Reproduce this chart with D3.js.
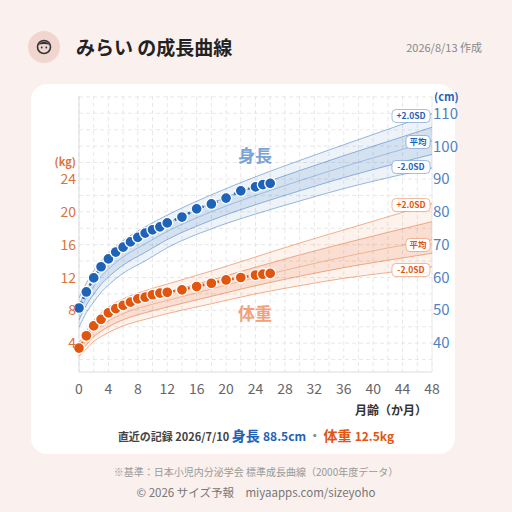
<!DOCTYPE html>
<html><head><meta charset="utf-8">
<script src="https://cdn.jsdelivr.net/npm/d3@7"></script>
<style>body{margin:0;background:#faf0ed}svg{display:block;font-family:"Noto Sans CJK JP","Noto Sans",sans-serif}</style>
</head><body><svg id="c" width="512" height="512"></svg>
<script>
const refMonths=[0,1,2,3,4,6,9,12,18,24,30,36,42,48];
const hP2=[53.5,58,61.8,64.8,67.2,71,75.2,78.8,85,90.5,95.5,100.3,105,109.8];
const hMean=[49,53.5,57,60,62.3,66,70,73.8,79.8,84.8,89.3,93.6,97.6,101.5];
const hM2=[44.5,49,52.2,55.2,57.4,61,64.8,68.8,74.6,79.1,83.1,86.9,90.2,93.2];
const wP2=[4.0,5.5,6.8,7.7,8.4,9.4,10.4,11.2,12.8,14.5,16.2,17.8,19.4,21.0];
const wMean=[3.1,4.3,5.4,6.1,6.7,7.6,8.5,9.2,10.6,12.0,13.3,14.5,15.6,16.6];
const wM2=[2.4,3.3,4.2,4.8,5.3,6.1,6.9,7.6,8.8,10.0,11.0,11.9,12.6,13.3];
const recMonths=[0,1,2,3,4,5,6,7,8,9,10,11,12,14,16,18,20,22,24,25,26];
const heights=[50.4,55.3,59.6,63,65.4,67.5,69,70.6,72,73.3,74.3,75.2,76.4,78.2,80.7,82.2,84,86.2,87.4,88.1,88.5];
const weights=[3.4,4.9,6.1,6.9,7.7,8.2,8.6,9.0,9.4,9.6,9.9,10.1,10.2,10.5,10.9,11.3,11.7,12.0,12.3,12.4,12.5];
const xTicks=[0,4,8,12,16,20,24,28,32,36,40,44,48];
const kgTicks=[4,8,12,16,20,24];
const cmTicks=[40,50,60,70,80,90,100,110];

const svg=d3.select("#c");
const BL="#1f63b8",OR="#e0560f";
const x=d3.scaleLinear().domain([0,48]).range([79,432]);
const yk=d3.scaleLinear().domain([0,24]).range([376,179]);
const yc=d3.scaleLinear().domain([40,110]).range([342,113]);
const pTop=96,pBot=372;

svg.append("circle").attr("cx",44).attr("cy",47).attr("r",16).attr("fill","#f1d6d0");
svg.append("circle").attr("cx",44).attr("cy",47).attr("r",6.5).attr("fill","none").attr("stroke","#333").attr("stroke-width",1.6);
svg.append("path").attr("d","M37.8,45 Q44,38 50.2,45 Q44,43 37.8,45Z").attr("fill","#333");
svg.append("circle").attr("cx",41.7).attr("cy",47.5).attr("r",0.9).attr("fill","#333");
svg.append("circle").attr("cx",46.3).attr("cy",47.5).attr("r",0.9).attr("fill","#333");
svg.append("text").attr("x",76).attr("y",55).attr("font-size",19).attr("font-weight",700).attr("fill","#222").text("みらい の成長曲線");
svg.append("text").attr("x",482).attr("y",52).attr("text-anchor","end").attr("font-size",11).attr("fill","#888").text("2026/8/13 作成");

svg.append("rect").attr("x",31).attr("y",84).attr("width",424).attr("height",370).attr("rx",16).attr("fill","#fff");

const g=svg.append("g");
for(let m=0;m<=48;m+=2) g.append("line").attr("x1",x(m)).attr("x2",x(m)).attr("y1",pTop).attr("y2",pBot).attr("stroke","#e8e8e8").attr("stroke-dasharray","4,3");
for(let k=0;k<=34;k+=2){const yy=yk(k); if(yy>=pTop&&yy<=pBot) g.append("line").attr("x1",79).attr("x2",432).attr("y1",yy).attr("y2",yy).attr("stroke","#e8e8e8").attr("stroke-dasharray","4,3");}
g.append("line").attr("x1",79).attr("x2",79).attr("y1",pTop).attr("y2",pBot).attr("stroke","#ddd");
g.append("line").attr("x1",79).attr("x2",432).attr("y1",pBot).attr("y2",pBot).attr("stroke","#ddd");
g.append("line").attr("x1",432).attr("x2",432).attr("y1",pTop).attr("y2",pBot).attr("stroke","#eee");

function bands(p2,mean,m2,ys,col){
  const p1=mean.map((v,i)=>(v+p2[i])/2), m1=mean.map((v,i)=>(v+m2[i])/2);
  const area=(a,b)=>d3.area().curve(d3.curveMonotoneX).x((d,i)=>x(refMonths[i])).y0((d,i)=>ys(b[i])).y1((d,i)=>ys(a[i]));
  svg.append("path").datum(refMonths).attr("d",area(p2,m2)).attr("fill",col).attr("opacity",0.08);
  svg.append("path").datum(refMonths).attr("d",area(p1,m1)).attr("fill",col).attr("opacity",0.12);
  const line=d3.line().curve(d3.curveMonotoneX).x((d,i)=>x(refMonths[i])).y(d=>ys(d));
  [p2,p1,m1,m2].forEach(a=>svg.append("path").datum(a).attr("d",line).attr("fill","none").attr("stroke",col).attr("stroke-opacity",0.45).attr("stroke-width",1));
  svg.append("path").datum(mean).attr("d",line).attr("fill","none").attr("stroke",col).attr("stroke-opacity",0.3).attr("stroke-width",1);
}
bands(hP2,hMean,hM2,yc,BL);
bands(wP2,wMean,wM2,yk,OR);

function series(vals,ys,col){
  svg.append("path").datum(vals).attr("d",d3.line().x((d,i)=>x(recMonths[i])).y(d=>ys(d))).attr("fill","none").attr("stroke",col).attr("stroke-width",2.5).attr("stroke-dasharray","2,3");
  svg.selectAll(null).data(vals).enter().append("circle").attr("cx",(d,i)=>x(recMonths[i])).attr("cy",d=>ys(d)).attr("r",5.5).attr("fill",col).attr("stroke","#fff").attr("stroke-width",1.3);
}
series(heights,yc,BL);
series(weights,yk,OR);

svg.append("text").attr("x",255).attr("y",162).attr("text-anchor","middle").attr("font-size",17).attr("font-weight",700).attr("fill","#7aa3d6").text("身長");
svg.append("text").attr("x",255).attr("y",320).attr("text-anchor","middle").attr("font-size",17).attr("font-weight",700).attr("fill","#f0a17a").text("体重");

function pill(t,yy,col,w){
  svg.append("rect").attr("x",430-w).attr("y",yy-6.5).attr("width",w).attr("height",13).attr("rx",4).attr("fill","#fff").attr("stroke",col).attr("stroke-opacity",0.4);
  svg.append("text").attr("x",430-w/2).attr("y",yy+3).attr("text-anchor","middle").attr("font-size",8.5).attr("font-weight",700).attr("fill",col).text(t);
}
pill("+2.0SD",116,BL,38);pill("平均",142,BL,24);pill("-2.0SD",167,BL,38);
pill("+2.0SD",205,OR,38);pill("平均",245,OR,24);pill("-2.0SD",270,OR,38);

xTicks.forEach(m=>svg.append("text").attr("x",x(m)).attr("y",394).attr("text-anchor","middle").attr("font-size",14).attr("fill","#666").text(m));
kgTicks.forEach(k=>svg.append("text").attr("x",76).attr("y",yk(k)+5).attr("text-anchor","end").attr("font-size",14).attr("fill","#d9743f").text(k));
cmTicks.forEach(c=>svg.append("text").attr("x",433).attr("y",yc(c)+6).attr("font-size",15).attr("fill","#4f82c4").text(c));
svg.append("text").attr("x",76).attr("y",166).attr("text-anchor","end").attr("font-size",11).attr("font-weight",700).attr("fill","#d9743f").text("(kg)");
svg.append("text").attr("x",434).attr("y",101).attr("font-size",11).attr("font-weight",700).attr("fill",BL).text("(cm)");
svg.append("text").attr("x",427).attr("y",415).attr("text-anchor","end").attr("font-size",12).attr("font-weight",700).attr("fill","#333").text("月齢（か月）");

const r=svg.append("text").attr("x",256).attr("y",441).attr("text-anchor","middle").attr("font-weight",700);
r.append("tspan").attr("font-size",11).attr("fill","#444").text("直近の記録 2026/7/10  ");
r.append("tspan").attr("font-size",14).attr("fill",BL).text("身長 ");
r.append("tspan").attr("font-size",12).attr("fill",BL).text("88.5cm");
r.append("tspan").attr("font-size",12).attr("fill","#888").text(" ・ ");
r.append("tspan").attr("font-size",14).attr("fill",OR).text("体重 ");
r.append("tspan").attr("font-size",12).attr("fill",OR).text("12.5kg");

svg.append("text").attr("x",256).attr("y",476).attr("text-anchor","middle").attr("font-size",10).attr("fill","#999").text("※基準：日本小児内分泌学会 標準成長曲線（2000年度データ）");
svg.append("text").attr("x",256).attr("y",497).attr("text-anchor","middle").attr("font-size",11.5).attr("fill","#777").text("© 2026 サイズ予報　miyaapps.com/sizeyoho");
</script></body></html>
